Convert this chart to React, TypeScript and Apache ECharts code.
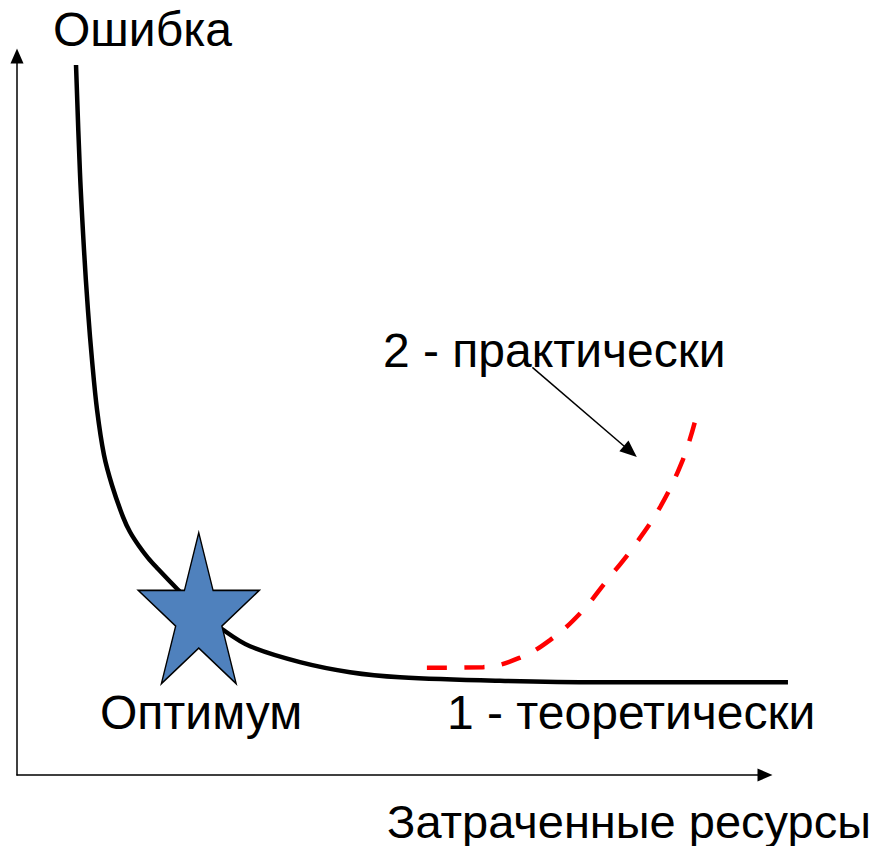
import React, { useEffect, useRef } from "react";
import * as echarts from "echarts";

// Conceptual units: x 0..100 (resources, axis arrow at 100), y 0..100 (error)
const theoryX = [7.89, 8.42, 8.96, 9.49, 10.03, 10.7, 11.63, 12.7, 14.17, 15.11, 16.31, 17.51, 18.72, 21.39, 24.47, 27.54, 31.15, 37.83, 44.52, 51.2, 64.57, 77.94, 103.07];
const theoryY = [98.75, 83.7, 73.0, 64.6, 57.7, 50.8, 44.5, 40.3, 35.9, 33.8, 31.85, 30.2, 28.8, 25.9, 22.8, 20.2, 17.9, 15.7, 14.3, 13.6, 13.1, 12.9, 12.9];

const practiceX = [54.8, 62.3, 67.2, 71.3, 75.3, 78.9, 82.4, 86.0, 89.0, 90.6];
const practiceY = [14.9, 15.0, 16.3, 18.8, 22.5, 27.1, 31.7, 37.3, 43.8, 49.0];

const optimumPoint = [24.3, 23.2];
const pointerFrom = [68.9, 56.7];
const pointerTo = [82.0, 45.0];

const labels = {
  yName: "Ошибка",
  xName: "Затраченные ресурсы",
  practice: "2 - практически",
  theory: "1 - теоретически",
  optimum: "Оптимум",
};

const STAR =
  "path://M0,-100L22.5,-30.9L95.1,-30.9L36.3,11.8L58.8,80.9L0,38.2L-58.8,80.9L-36.3,11.8L-95.1,-30.9L-22.5,-30.9Z";

const FONT = "'Liberation Sans', Arial, sans-serif";

export default function App() {
  const ref = useRef<HTMLDivElement>(null);
  useEffect(() => {
    if (!ref.current) return;
    const chart = echarts.init(ref.current, undefined, { renderer: "svg" });
    const hidden = {
      axisTick: { show: false },
      axisLabel: { show: false },
      splitLine: { show: false },
    };
    const arrowLine = {
      show: true,
      onZero: false,
      symbol: ["none", "triangle"],
      symbolSize: [13, 15],
      lineStyle: { color: "#000", width: 1.5 },
    };
    const textStyle = (s: string, size = 48) => ({
      text: s,
      fill: "#000",
      font: `${size}px ${FONT}`,
      verticalAlign: "middle",
      align: "left",
    });
    chart.setOption({
      animation: false,
      backgroundColor: "#fff",
      grid: [
        // data grid (wider so the curve may run past the axis arrow)
        { left: 17, top: 56, width: 822.8, height: 719 },
        // axes grid
        { left: 17, top: 56, width: 748, height: 719 },
      ],
      xAxis: [
        { type: "value", gridIndex: 0, min: 0, max: 110, axisLine: { show: false }, ...hidden },
        { type: "value", gridIndex: 1, min: 0, max: 100, axisLine: arrowLine, ...hidden },
      ],
      yAxis: [
        { type: "value", gridIndex: 0, min: 0, max: 100, axisLine: { show: false }, ...hidden },
        { type: "value", gridIndex: 1, min: 0, max: 100, axisLine: arrowLine, ...hidden },
      ],
      series: [
        {
          type: "line",
          xAxisIndex: 0,
          yAxisIndex: 0,
          data: theoryX.map((x, i) => [x, theoryY[i]]),
          smooth: 0.35,
          showSymbol: false,
          symbol: "none",
          clip: false,
          lineStyle: { color: "#000", width: 4.5 },
          z: 2,
        },
        {
          type: "line",
          xAxisIndex: 0,
          yAxisIndex: 0,
          data: practiceX.map((x, i) => [x, practiceY[i]]),
          smooth: 0.4,
          showSymbol: false,
          symbol: "none",
          clip: false,
          lineStyle: { color: "#ff0000", width: 4.5, type: [20, 17.5] },
          z: 2,
          markLine: {
            silent: true,
            symbol: ["none", "triangle"],
            symbolSize: [14, 17],
            label: { show: false },
            lineStyle: { color: "#000", width: 1.5, type: "solid" },
            data: [[{ coord: pointerFrom }, { coord: pointerTo }]],
          },
        },
        {
          type: "scatter",
          xAxisIndex: 0,
          yAxisIndex: 0,
          data: [optimumPoint],
          symbol: STAR,
          symbolSize: [121, 151],
          symbolKeepAspect: false,
          itemStyle: { color: "#4F81BD", borderColor: "#000", borderWidth: 1.5, opacity: 1 },
          z: 5,
        },
      ],
      graphic: [
        { type: "text", x: 53, y: 29, style: textStyle(labels.yName) },
        { type: "text", x: 383, y: 350, style: textStyle(labels.practice) },
        { type: "text", x: 100, y: 712, style: textStyle(labels.optimum) },
        { type: "text", x: 447, y: 712, style: textStyle(labels.theory) },
        { type: "text", x: 387, y: 821, style: textStyle(labels.xName, 47) },
      ],
    });
    return () => chart.dispose();
  }, []);
  return (
    <div
      ref={ref}
      style={{ position: "absolute", left: 0, top: 0, width: 886, height: 846, background: "#fff" }}
    />
  );
}
